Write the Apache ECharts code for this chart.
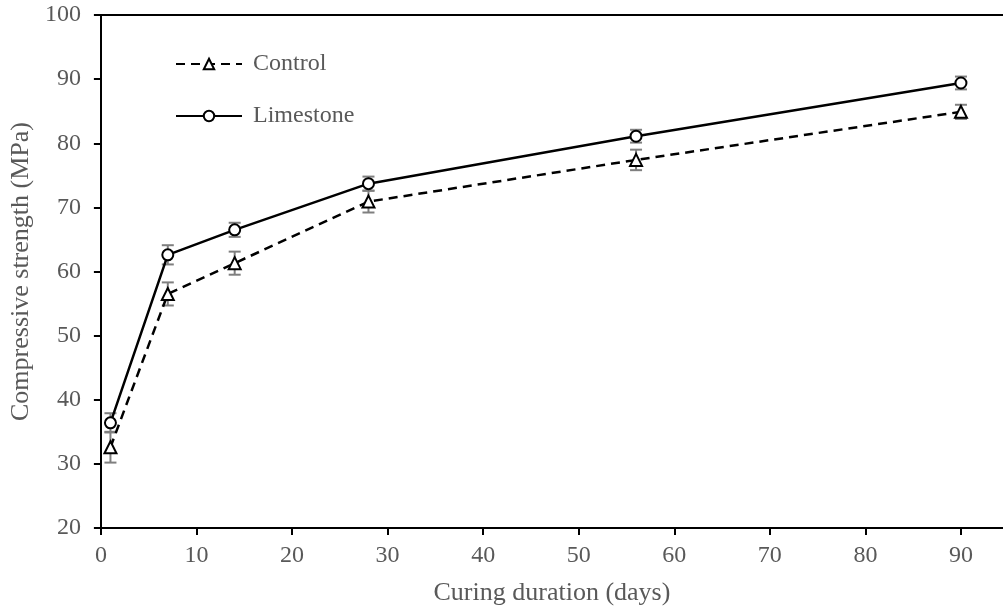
<!DOCTYPE html>
<html>
<head>
<meta charset="utf-8">
<script src="https://cdn.jsdelivr.net/npm/echarts@6/dist/echarts.min.js"></script>
<style>html,body{margin:0;padding:0;background:#fff}#c{width:1003px;height:614px}</style>
</head>
<body>
<div id="c"></div>
<script>
// Data
const days = [1, 7, 14, 28, 56, 90];
const controlMean = [32.6, 56.5, 61.3, 70.9, 77.4, 84.9];
const controlErr = [2.4, 1.8, 1.8, 1.7, 1.6, 1.1];
const limestoneMean = [36.4, 62.6, 66.5, 73.7, 81.1, 89.4];
const limestoneErr = [1.5, 1.5, 1.1, 1.1, 1.0, 1.0];
const seriesNames = ['Control', 'Limestone'];
const xTitle = 'Curing duration (days)';
const yTitle = 'Compressive strength (MPa)';

const FONT = '"Liberation Serif", "Times New Roman", serif';
const GREY = '#595959';

function pairs(xs, ys) { return xs.map((x, i) => [x, ys[i]]); }
function errData(xs, ys, es) { return xs.map((x, i) => [x, ys[i] - es[i], ys[i] + es[i]]); }

function errRender(params, api) {
  const x = api.value(0), lo = api.value(1), hi = api.value(2);
  const pLo = api.coord([x, lo]);
  const pHi = api.coord([x, hi]);
  const cap = 6;
  const st = { stroke: '#7f7f7f', lineWidth: 2 };
  return {
    type: 'group',
    children: [
      { type: 'line', shape: { x1: pLo[0], y1: pLo[1], x2: pHi[0], y2: pHi[1] }, style: st },
      { type: 'line', shape: { x1: pLo[0] - cap, y1: pLo[1], x2: pLo[0] + cap, y2: pLo[1] }, style: st },
      { type: 'line', shape: { x1: pHi[0] - cap, y1: pHi[1], x2: pHi[0] + cap, y2: pHi[1] }, style: st }
    ]
  };
}

const chart = echarts.init(document.getElementById('c'), null, { renderer: 'canvas' });
chart.setOption({
  animation: false,
  backgroundColor: '#fff',
  textStyle: { fontFamily: FONT },
  grid: { left: 99, top: 15, right: 0, bottom: 86 },
  legend: {
    orient: 'vertical',
    left: 170,
    top: 47,
    itemWidth: 66,
    itemHeight: 13,
    itemGap: 28,
    data: seriesNames,
    textStyle: { fontFamily: FONT, fontSize: 24, color: GREY, lineHeight: 24, padding: [0, 0, 0, 6] }
  },
  xAxis: [{
    type: 'value', min: 0, max: 94.4, interval: 10,
    name: xTitle, nameLocation: 'middle', nameGap: 52,
    nameTextStyle: { fontFamily: FONT, fontSize: 26, color: GREY },
    axisLine: { show: true, lineStyle: { color: '#000', width: 2 } },
    axisTick: { show: true, inside: false, length: 7, lineStyle: { color: '#000', width: 2 } },
    axisLabel: { fontFamily: FONT, fontSize: 24, color: GREY, margin: 16, showMaxLabel: false },
    splitLine: { show: false }
  }, {
    type: 'value', position: 'top', min: 0, max: 94.4,
    axisLine: { show: true, onZero: false, lineStyle: { color: '#000', width: 2 } },
    axisTick: { show: false }, axisLabel: { show: false }, splitLine: { show: false }
  }],
  yAxis: {
    type: 'value', min: 20, max: 100, interval: 10,
    name: yTitle, nameLocation: 'middle', nameGap: 64, nameRotate: 90,
    nameTextStyle: { fontFamily: FONT, fontSize: 26, color: GREY },
    axisLine: { show: true, lineStyle: { color: '#000', width: 2 } },
    axisTick: { show: true, inside: false, length: 7, lineStyle: { color: '#000', width: 2 } },
    axisLabel: { fontFamily: FONT, fontSize: 24, color: GREY, margin: 20 },
    splitLine: { show: false }
  },
  series: [
    {
      type: 'custom', name: 'Control error', z: 1, xAxisIndex: 0,
      renderItem: errRender, data: errData(days, controlMean, controlErr),
      encode: { x: 0, y: [1, 2] }, silent: true
    },
    {
      type: 'custom', name: 'Limestone error', z: 1, xAxisIndex: 0,
      renderItem: errRender, data: errData(days, limestoneMean, limestoneErr),
      encode: { x: 0, y: [1, 2] }, silent: true
    },
    {
      type: 'line', name: seriesNames[0], xAxisIndex: 0, z: 3,
      data: pairs(days, controlMean),
      symbol: 'triangle', symbolSize: 12,
      lineStyle: { color: '#000', width: 2.5, type: [9, 6] },
      itemStyle: { color: '#fff', borderColor: '#000', borderWidth: 2 }
    },
    {
      type: 'line', name: seriesNames[1], xAxisIndex: 0, z: 3,
      data: pairs(days, limestoneMean),
      symbol: 'circle', symbolSize: 11,
      lineStyle: { color: '#000', width: 2.5, type: 'solid' },
      itemStyle: { color: '#fff', borderColor: '#000', borderWidth: 2 }
    }
  ]
});
</script>
</body>
</html>
